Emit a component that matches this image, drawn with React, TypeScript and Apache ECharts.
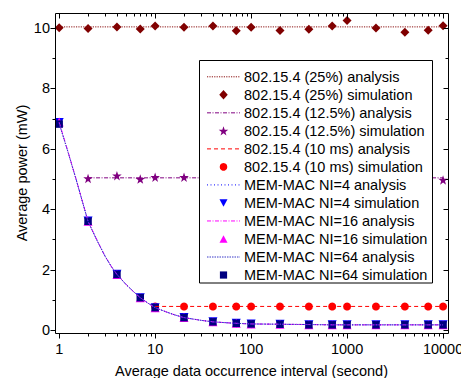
import React, { useEffect, useRef } from "react";
import * as echarts from "echarts";

const FONT = "'Liberation Sans', Arial, Helvetica, sans-serif";
const FS = 14.5;

// ---------- axes ----------
const X_MIN_RAW = 0.905;
const X_MAX_RAW = 11260;
const Y_MIN = -0.1;
const Y_MAX = 10.5;
const X_TICKS = [1, 10, 100, 1000, 10000];
const X_MINOR_TICKS = [
  2, 3, 4, 5, 6, 7, 8, 9,
  20, 30, 40, 50, 60, 70, 80, 90,
  200, 300, 400, 500, 600, 700, 800, 900,
  2000, 3000, 4000, 5000, 6000, 7000, 8000, 9000,
];
const Y_TICKS = [0, 2, 4, 6, 8, 10];
const Y_MINOR_TICKS = [1, 3, 5, 7, 9];

// ---------- data ----------
const X_SIM = [1, 2, 4, 7, 10, 20, 40, 70, 100, 200, 400, 700, 1000, 2000, 4000, 7000, 10000];

const X_25_AN = [1, 10000];
const P25_AN = [10.04, 10.04];
const P25_SIM = [10.01, 9.99, 10.04, 9.97, 10.07, 10.03, 10.07, 9.91, 10.03, 9.92, 9.96, 10.07, 10.25, 10.0, 9.86, 9.93, 10.08];

const X_125 = [2, 4, 7, 10, 20, 40, 70, 100, 200, 400, 700, 1000, 2000, 4000, 7000, 10000];
const X_125_AN = [2, 10000];
const P125_AN = [5.04, 5.04];
const P125_SIM = [5.02, 5.11, 5.0, 5.06, 5.06, 5.03, 5.08, 4.99, 5.05, 5.02, 5.0, 5.04, 4.98, 5.03, 5.01, 4.97];

const X_10MS = [10, 20, 40, 70, 100, 200, 400, 700, 1000, 2000, 4000, 7000, 10000];
const X_10MS_AN = [10, 10000];
const P10MS_AN = [0.78, 0.78];
const P10MS_SIM = [0.78, 0.78, 0.78, 0.78, 0.78, 0.78, 0.78, 0.78, 0.78, 0.78, 0.78, 0.78, 0.78];

const X_MEM_AN = [1, 1.25, 1.5, 1.75, 2, 2.5, 3, 3.5, 4, 5, 6, 7, 8.5, 10, 13, 16, 20, 25, 30, 40, 55, 70, 100, 200, 400, 700, 1000, 2000, 4000, 7000, 10000];
const NI4_AN = [6.86, 5.85, 5.0, 4.25, 3.6, 2.95, 2.45, 2.1, 1.84, 1.5, 1.26, 1.07, 0.88, 0.74, 0.6, 0.5, 0.41, 0.36, 0.32, 0.27, 0.24, 0.22, 0.2, 0.19, 0.18, 0.17, 0.17, 0.17, 0.17, 0.17, 0.17];
const NI16_AN = [6.88, 5.86, 5.0, 4.25, 3.6, 2.95, 2.45, 2.1, 1.84, 1.5, 1.26, 1.07, 0.88, 0.74, 0.6, 0.5, 0.41, 0.36, 0.32, 0.27, 0.24, 0.22, 0.2, 0.19, 0.18, 0.17, 0.17, 0.17, 0.17, 0.17, 0.17];
const NI64_AN = [6.84, 5.84, 4.99, 4.24, 3.59, 2.94, 2.45, 2.1, 1.84, 1.5, 1.26, 1.07, 0.88, 0.74, 0.6, 0.5, 0.41, 0.36, 0.32, 0.27, 0.24, 0.22, 0.2, 0.19, 0.18, 0.17, 0.17, 0.17, 0.17, 0.17, 0.17];
const NI4_SIM = [6.87, 3.61, 1.85, 1.07, 0.74, 0.41, 0.27, 0.22, 0.2, 0.19, 0.17, 0.17, 0.17, 0.17, 0.17, 0.17, 0.17];
const NI16_SIM = [6.89, 3.6, 1.84, 1.07, 0.74, 0.41, 0.27, 0.22, 0.2, 0.19, 0.17, 0.17, 0.17, 0.17, 0.17, 0.17, 0.17];
const NI64_SIM = [6.82, 3.6, 1.84, 1.07, 0.74, 0.41, 0.27, 0.22, 0.2, 0.19, 0.17, 0.17, 0.17, 0.17, 0.17, 0.17, 0.17];

const STAR_PATH =
  "path://M0,-10L2.35,-3.24L9.51,-3.09L3.8,1.24L5.88,8.09L0,4L-5.88,8.09L-3.8,1.24L-9.51,-3.09L-2.35,-3.24Z";

type Spec = {
  name: string;
  kind: "line" | "marker";
  color: string;
  xs: number[];
  ys: number[];
  dash?: number[];
  symbol?: string;
  size?: number;
  rotate?: number;
};

const SPECS: Spec[] = [
  { name: "802.15.4 (25%) analysis", kind: "line", color: "#8B1010", xs: X_25_AN, ys: P25_AN, dash: [1.2, 1.2] },
  { name: "802.15.4 (25%) simulation", kind: "marker", color: "#800000", xs: X_SIM, ys: P25_SIM, symbol: "diamond", size: 9 },
  { name: "802.15.4 (12.5%) analysis", kind: "line", color: "#800080", xs: X_125_AN, ys: P125_AN, dash: [4, 1.5, 1, 1.5] },
  { name: "802.15.4 (12.5%) simulation", kind: "marker", color: "#800080", xs: X_125, ys: P125_SIM, symbol: "star", size: 9.5 },
  { name: "802.15.4 (10 ms) analysis", kind: "line", color: "#FF0000", xs: X_10MS_AN, ys: P10MS_AN, dash: [4, 3] },
  { name: "802.15.4 (10 ms) simulation", kind: "marker", color: "#FF0000", xs: X_10MS, ys: P10MS_SIM, symbol: "circle", size: 8 },
  { name: "MEM-MAC NI=4 analysis", kind: "line", color: "#0000FF", xs: X_MEM_AN, ys: NI4_AN, dash: [1, 2.5] },
  { name: "MEM-MAC NI=4 simulation", kind: "marker", color: "#0000FF", xs: X_SIM, ys: NI4_SIM, symbol: "triangle", size: 9, rotate: 180 },
  { name: "MEM-MAC NI=16 analysis", kind: "line", color: "#FF00FF", xs: X_MEM_AN, ys: NI16_AN, dash: [4, 1.5, 1, 1.5] },
  { name: "MEM-MAC NI=16 simulation", kind: "marker", color: "#FF00FF", xs: X_SIM, ys: NI16_SIM, symbol: "triangle", size: 9 },
  { name: "MEM-MAC NI=64 analysis", kind: "line", color: "#3838C8", xs: X_MEM_AN, ys: NI64_AN, dash: [1.5, 1] },
  { name: "MEM-MAC NI=64 simulation", kind: "marker", color: "#000080", xs: X_SIM, ys: NI64_SIM, symbol: "rect", size: 7.5 },
];

const lg = (v: number) => Math.log10(v);

function buildSeries(): any[] {
  return SPECS.map((s) => {
    const data = s.xs.map((x, i) => [lg(x), s.ys[i]]);
    if (s.kind === "line") {
      return {
        name: s.name,
        type: "line",
        data,
        symbol: "none",
        smooth: false,
        lineStyle: { color: s.color, width: 1, type: s.dash },
        silent: true,
      };
    }
    return {
      name: s.name,
      type: "scatter",
      data,
      symbol: s.symbol === "star" ? STAR_PATH : s.symbol,
      symbolSize: s.size,
      symbolRotate: s.rotate || 0,
      itemStyle: { color: s.color, opacity: 1 },
      silent: true,
    };
  });
}

// ---------- legend (drawn as graphics) ----------
const LG_LEFT = 199.5;
const LG_TOP = 60.5;
const LG_W = 233;
const LG_H = 222.5;
const LG_ROW0 = 76.8;
const LG_ROW = 18.02;
const LG_ICON_X1 = 207;
const LG_ICON_X2 = 240;
const LG_TEXT_X = 244;

function markerShape(s: Spec, cx: number, cy: number): any {
  const z = 101;
  const fill = { fill: s.color, stroke: "none" };
  switch (s.symbol) {
    case "diamond": {
      const w = 8.5, h = 9.5;
      return { type: "polygon", z, shape: { points: [[cx, cy - h / 2], [cx + w / 2, cy], [cx, cy + h / 2], [cx - w / 2, cy]] }, style: fill };
    }
    case "star": {
      const R = 5, r = R * 0.4;
      const pts: number[][] = [];
      for (let k = 0; k < 10; k++) {
        const a = -Math.PI / 2 + (k * Math.PI) / 5;
        const rad = k % 2 === 0 ? R : r;
        pts.push([cx + rad * Math.cos(a), cy + 0.5 + rad * Math.sin(a)]);
      }
      return { type: "polygon", z, shape: { points: pts }, style: fill };
    }
    case "circle":
      return { type: "circle", z, shape: { cx, cy, r: 3.8 }, style: fill };
    case "triangle": {
      const w = 8, h = 7.5;
      const down = s.rotate === 180;
      const pts = down
        ? [[cx - w / 2, cy - h / 2], [cx + w / 2, cy - h / 2], [cx, cy + h / 2]]
        : [[cx, cy - h / 2], [cx + w / 2, cy + h / 2], [cx - w / 2, cy + h / 2]];
      return { type: "polygon", z, shape: { points: pts }, style: fill };
    }
    default:
      return { type: "rect", z, shape: { x: cx - 3.6, y: cy - 3.6, width: 7.2, height: 7.2 }, style: fill };
  }
}

function buildLegend() {
  const els: any[] = [
    {
      type: "rect",
      z: 100,
      shape: { x: LG_LEFT, y: LG_TOP, width: LG_W, height: LG_H },
      style: { fill: "#fff", stroke: "#000", lineWidth: 1 },
    },
  ];
  SPECS.forEach((s, i) => {
    const cy = LG_ROW0 + i * LG_ROW;
    if (s.kind === "line") {
      els.push({
        type: "line",
        z: 101,
        shape: { x1: LG_ICON_X1, y1: cy, x2: LG_ICON_X2, y2: cy },
        style: { stroke: s.color, lineWidth: 1, lineDash: s.dash },
      });
    } else {
      els.push(markerShape(s, (LG_ICON_X1 + LG_ICON_X2) / 2, cy));
    }
    els.push({
      type: "text",
      z: 101,
      x: LG_TEXT_X,
      y: cy,
      style: {
        text: s.name,
        fill: "#000",
        font: `${FS}px ${FONT}`,
        verticalAlign: "middle",
        align: "left",
      },
    });
  });
  return els;
}

// frame + tick marks, placed through the chart's own coordinate conversion
function buildFrame(chart: any): any[] {
  const toPx = (x: number, y: number) => chart.convertToPixel({ gridIndex: 0 }, [x, y]) as number[];
  const snap = (v: number) => Math.round(v) + 0.5;
  const xmin = lg(X_MIN_RAW), xmax = lg(X_MAX_RAW);
  const [l0, b0] = toPx(xmin, Y_MIN);
  const [r0, t0] = toPx(xmax, Y_MAX);
  const l = snap(l0), b = snap(b0), r = snap(r0), t = snap(t0);
  const st = { stroke: "#000", lineWidth: 1 };
  const els: any[] = [
    { type: "rect", z: 50, shape: { x: l, y: t, width: r - l, height: b - t }, style: { fill: "none", stroke: "#000", lineWidth: 1 } },
  ];
  const xt = (v: number, len: number) => {
    const px = snap(toPx(lg(v), Y_MIN)[0]);
    els.push({ type: "line", z: 50, shape: { x1: px, y1: b, x2: px, y2: b + len }, style: st });
    els.push({ type: "line", z: 50, shape: { x1: px, y1: t, x2: px, y2: t + len }, style: st });
  };
  const yt = (v: number, len: number) => {
    const py = snap(toPx(xmin, v)[1]);
    els.push({ type: "line", z: 50, shape: { x1: l - len, y1: py, x2: l, y2: py }, style: st });
    els.push({ type: "line", z: 50, shape: { x1: r - len, y1: py, x2: r, y2: py }, style: st });
  };
  X_TICKS.forEach((v) => xt(v, 5));
  X_MINOR_TICKS.forEach((v) => xt(v, 3));
  Y_TICKS.forEach((v) => yt(v, 5));
  Y_MINOR_TICKS.forEach((v) => yt(v, 3));
  return els;
}

export default function App() {
  const ref = useRef<HTMLDivElement>(null);
  useEffect(() => {
    document.body.style.margin = "0";
    if (!ref.current) return;
    const chart = echarts.init(ref.current, undefined, { renderer: "svg" });
    chart.setOption({
      animation: false,
      backgroundColor: "#fff",
      textStyle: { fontFamily: FONT },
      grid: {
        left: 55,
        right: 13,
        top: 13,
        bottom: 45,
        containLabel: false,
        outerBoundsMode: "none",
      },
      xAxis: {
        type: "value",
        min: lg(X_MIN_RAW),
        max: lg(X_MAX_RAW),
        axisLine: { show: false, onZero: false },
        axisTick: { show: false },
        axisLabel: {
          show: true,
          customValues: X_TICKS.map(lg),
          formatter: (v: number) => String(Math.round(Math.pow(10, v))),
          color: "#000",
          fontSize: FS,
          fontFamily: FONT,
          margin: 8,
        },
        splitLine: { show: false },
        name: "Average data occurrence interval (second)",
        nameLocation: "middle",
        nameGap: 30,
        nameMoveOverlap: false,
        nameTextStyle: { color: "#000", fontSize: FS, fontFamily: FONT },
      },
      yAxis: {
        type: "value",
        min: Y_MIN,
        max: Y_MAX,
        axisLine: { show: false, onZero: false },
        axisTick: { show: false },
        axisLabel: {
          show: true,
          customValues: Y_TICKS,
          color: "#000",
          fontSize: FS,
          fontFamily: FONT,
          margin: 5,
        },
        splitLine: { show: false },
        name: "Average power (mW)",
        nameLocation: "middle",
        nameGap: 26,
        nameMoveOverlap: false,
        nameTextStyle: { color: "#000", fontSize: FS, fontFamily: FONT },
      },
      series: buildSeries(),
      graphic: buildLegend(),
    });
    chart.setOption({ graphic: [...buildLegend(), ...buildFrame(chart)] }, { replaceMerge: ["graphic"] });
    return () => chart.dispose();
  }, []);
  return <div ref={ref} style={{ width: 461, height: 378 }} />;
}
